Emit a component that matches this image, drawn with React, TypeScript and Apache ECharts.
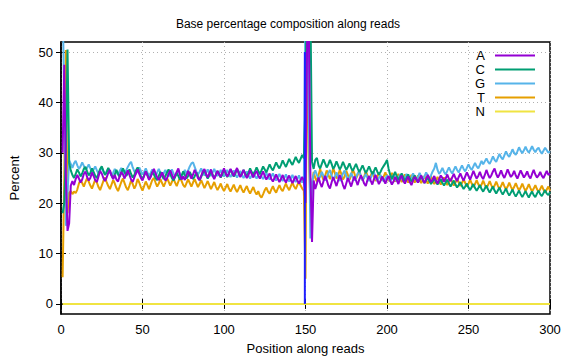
import React, { useEffect, useRef } from "react";
import * as echarts from "echarts";

const titleText = "Base percentage composition along reads";
const xAxisName = "Position along reads";
const yAxisName = "Percent";
const seriesNames = ["A", "C", "G", "T", "N"];
const seriesColors = ["#9400d3", "#009e73", "#56b4e9", "#e69f00", "#f0e442"];
const yTickValues = [0, 10, 20, 30, 40, 50];

const aValues = [
  30, 47.5, 25, 14.5, 16, 23.5, 24.4, 23.6, 24.8, 25.6, 24.9, 24.1, 24.7, 25.8, 26.3, 25.2, 24.5, 25.0, 26.1, 25.4,
  24.6, 24.2, 25.3, 26.4, 25.9, 25.0, 24.4, 25.1, 26.0, 26.6, 25.5, 24.8, 25.6, 24.7, 24.3, 25.4, 26.2, 25.7, 24.9, 25.8,
  26.5, 25.6, 24.7, 24.2, 25.1, 25.9, 26.7, 25.8, 25.0, 24.5, 25.4, 26.3, 25.5, 24.6, 25.2, 26.0, 26.8, 25.9, 25.1, 24.6,
  25.3, 26.1, 25.4, 24.5, 24.9, 25.8, 26.5, 25.7, 24.8, 25.5, 26.2, 26.9, 25.6, 24.7, 25.3, 24.6, 25.5, 26.4, 25.6, 24.9,
  25.7, 26.6, 25.9, 25.0, 24.6, 25.4, 26.3, 26.8, 25.8, 25.1, 25.9, 26.7, 25.5, 24.8, 25.6, 26.4, 25.7, 25.2, 26.1, 26.9,
  26.0, 25.3, 25.9, 26.8, 26.1, 25.4, 26.2, 27.0, 25.9, 25.2, 25.8, 26.6, 25.7, 25.0, 25.6, 26.5, 25.8, 25.1, 25.9, 26.4,
  25.5, 24.9, 25.6, 26.3, 25.4, 24.7, 25.3, 25.9, 24.8, 24.3, 25.0, 25.7, 24.9, 24.2, 24.8, 25.6, 24.7, 24.1, 24.9, 25.5,
  24.6, 24.0, 24.7, 25.4, 24.5, 23.9, 24.6, 25.2, 24.4, 20.0, 52.0, 56.0, 26.0, 12.3, 24.5, 22.8, 23.9, 25.1, 24.0, 23.2,
  24.3, 25.4, 24.6, 23.5, 22.9, 24.1, 25.2, 24.3, 23.4, 24.5, 25.6, 24.7, 23.6, 22.8, 23.9, 25.0, 24.2, 23.3, 24.4, 25.3,
  24.5, 23.6, 24.7, 25.5, 24.8, 23.9, 23.4, 24.6, 25.4, 24.5, 23.7, 24.8, 25.6, 24.7, 23.8, 24.4, 25.3, 24.6, 23.9, 24.8,
  25.4, 24.5, 23.7, 24.3, 25.2, 24.6, 23.8, 24.9, 25.5, 24.4, 23.9, 24.7, 25.3, 24.2, 23.6, 24.5, 25.2, 24.8, 24.1, 24.9,
  25.5, 24.6, 24.0, 24.8, 25.6, 24.9, 24.2, 24.7, 25.4, 24.5, 23.9, 24.8, 25.5, 25.0, 24.3, 24.9, 25.7, 24.8, 24.4, 25.1,
  25.8, 25.0, 24.4, 25.2, 25.9, 25.1, 24.5, 25.3, 26.1, 25.4, 24.7, 25.5, 26.4, 25.6, 24.9, 25.4, 26.2, 25.3, 24.8, 25.6,
  26.6, 25.7, 25.0, 25.5, 26.3, 26.9, 25.8, 25.1, 25.7, 26.5, 25.6, 25.0, 25.8, 26.7, 25.9, 25.2, 25.6, 26.4, 25.5, 24.9,
  25.7, 26.5, 25.8, 25.1, 25.6, 26.3, 25.4, 24.9, 25.8, 26.6, 25.7, 25.1, 25.5, 26.2, 25.4, 25.0, 25.7, 26.4, 25.6, 25.9,
];

const cValues = [
  18, 20, 30, 50.5, 28, 26.5, 25.6, 25.0, 25.8, 26.7, 26.1, 25.3, 25.9, 26.8, 27.2, 26.3, 25.5, 26.0, 26.9, 26.2,
  25.4, 25.0, 25.9, 26.8, 27.3, 26.4, 25.6, 26.1, 27.0, 26.3, 25.5, 24.9, 25.7, 26.6, 25.8, 25.2, 26.0, 26.9, 26.2, 25.4,
  25.9, 26.7, 25.8, 25.1, 25.6, 26.5, 27.1, 26.2, 25.4, 24.8, 25.5, 26.3, 25.6, 24.9, 25.3, 26.2, 25.7, 25.0, 24.6, 25.4,
  26.2, 25.5, 24.8, 25.3, 26.1, 26.7, 25.8, 25.0, 24.5, 25.2, 26.0, 25.4, 24.7, 25.5, 26.3, 25.6, 24.9, 25.4, 26.2, 25.5,
  24.8, 25.3, 26.1, 25.4, 24.6, 25.2, 26.0, 26.5, 25.6, 24.9, 25.5, 26.3, 25.7, 25.0, 25.6, 26.4, 25.8, 25.1, 25.7, 26.6,
  25.9, 25.2, 25.8, 26.7, 26.0, 25.3, 25.9, 26.8, 26.1, 25.4, 25.8, 26.6, 25.9, 25.3, 26.0, 26.9, 26.2, 25.6, 26.3, 27.1,
  26.4, 25.8, 26.5, 27.3, 26.7, 26.1, 26.9, 27.7, 27.0, 26.5, 27.3, 28.1, 27.4, 26.9, 27.6, 28.5, 27.8, 27.2, 28.0, 28.8,
  28.1, 27.6, 28.4, 29.2, 28.5, 28.0, 28.8, 29.6, 28.9, 40.0, 70.0, 65.0, 60.0, 28.2, 26.8, 28.6, 29.0, 27.5, 26.9, 27.8,
  28.7, 27.9, 27.1, 27.7, 28.6, 27.8, 26.8, 27.4, 28.3, 27.5, 26.7, 27.3, 28.2, 27.4, 26.6, 27.2, 27.9, 27.0, 26.4, 27.1,
  27.8, 26.9, 26.2, 26.8, 27.5, 26.7, 26.0, 26.6, 27.3, 26.5, 25.8, 26.4, 27.1, 26.3, 25.7, 26.2, 26.9, 27.4, 27.9, 28.6,
  26.8, 25.6, 24.8, 25.5, 26.2, 25.3, 24.6, 25.2, 25.9, 25.1, 24.4, 25.0, 25.7, 24.9, 24.3, 24.8, 25.5, 24.7, 24.1, 24.7,
  25.4, 24.6, 24.0, 24.5, 25.2, 24.4, 23.8, 24.3, 25.0, 24.2, 23.7, 24.2, 24.8, 24.0, 23.5, 24.1, 24.7, 23.9, 23.3, 23.9,
  24.5, 23.7, 23.1, 23.6, 24.2, 23.4, 22.8, 23.3, 23.9, 23.1, 22.6, 23.2, 23.8, 23.0, 22.5, 23.0, 23.6, 22.8, 22.3, 22.9,
  23.5, 22.7, 22.1, 22.7, 23.3, 22.5, 21.9, 22.5, 23.1, 22.3, 21.7, 22.3, 22.9, 22.1, 21.5, 22.1, 22.7, 21.9, 21.3, 21.9,
  22.5, 21.8, 21.2, 21.8, 22.4, 21.7, 21.1, 21.8, 22.3, 21.6, 21.2, 21.9, 22.5, 21.8, 21.4, 22.0, 22.6, 21.9, 21.6, 22.2,
];

const gValues = [
  60, 40, 15.5, 22, 28.5, 27.8, 27.0, 27.9, 28.4, 27.5, 26.8, 27.3, 28.1, 27.4, 26.6, 27.0, 27.7, 26.9, 26.2, 26.7,
  27.3, 26.5, 25.9, 26.4, 27.1, 26.3, 25.7, 26.3, 26.9, 26.1, 25.5, 26.0, 26.8, 26.2, 25.6, 26.4, 27.0, 26.3, 25.8, 26.5,
  27.2, 27.8, 28.2, 27.1, 26.3, 25.8, 26.5, 27.1, 26.4, 25.7, 26.2, 26.9, 26.1, 25.5, 26.0, 26.7, 26.0, 25.4, 26.1, 26.8,
  26.0, 25.4, 25.9, 26.6, 25.9, 25.3, 26.0, 26.7, 25.9, 25.3, 25.8, 26.5, 25.8, 25.2, 25.9, 26.6, 25.8, 26.5, 27.3, 27.9,
  28.1, 27.2, 26.3, 25.7, 26.2, 26.9, 26.1, 25.5, 26.0, 26.7, 25.9, 25.4, 26.1, 26.8, 26.0, 25.4, 25.9, 26.6, 25.8, 25.3,
  25.9, 26.6, 25.8, 25.2, 25.8, 26.5, 25.7, 25.1, 25.7, 26.4, 25.6, 25.0, 25.6, 26.3, 25.5, 24.9, 25.5, 26.2, 25.4, 24.9,
  25.5, 26.1, 25.3, 24.8, 25.4, 26.0, 25.2, 24.7, 25.3, 25.9, 25.1, 24.5, 25.1, 25.8, 25.0, 24.4, 25.0, 25.7, 24.9, 24.3,
  24.9, 25.6, 24.8, 24.2, 24.8, 25.5, 24.7, 24.1, 24.9, 60.0, 60.0, 40.0, 13.0, 24.2, 25.7, 26.5, 25.6, 24.7, 25.3, 26.2,
  25.4, 24.5, 25.1, 26.0, 26.6, 25.5, 24.6, 25.2, 26.1, 25.3, 24.4, 25.0, 25.9, 26.5, 25.4, 24.6, 25.2, 26.0, 25.2, 24.5,
  25.1, 25.9, 26.4, 25.3, 24.5, 25.1, 25.8, 25.0, 24.4, 25.0, 25.7, 26.2, 25.1, 24.4, 25.0, 25.6, 24.9, 24.3, 24.9, 25.5,
  24.8, 24.3, 24.9, 25.6, 24.9, 24.3, 24.9, 25.7, 25.0, 24.4, 25.0, 25.8, 25.1, 24.5, 25.1, 25.9, 25.2, 24.6, 25.2, 26.0,
  25.3, 24.7, 25.3, 26.1, 25.5, 24.9, 25.5, 26.3, 26.9, 28.0, 26.6, 25.8, 26.3, 27.0, 26.2, 25.7, 26.4, 27.1, 26.4, 25.9,
  26.6, 27.3, 26.6, 26.1, 26.8, 27.5, 26.8, 26.3, 27.0, 27.7, 27.0, 26.6, 27.3, 28.0, 27.3, 26.9, 27.6, 28.4, 27.7, 28.3,
  28.9, 28.2, 27.8, 28.5, 29.3, 28.6, 28.2, 29.0, 29.8, 29.1, 28.7, 29.5, 30.3, 29.6, 29.2, 29.9, 30.7, 30.0, 29.6, 30.3,
  31.1, 30.4, 29.9, 30.5, 31.2, 30.5, 30.0, 30.6, 31.3, 30.6, 30.1, 30.7, 31.0, 30.3, 29.8, 30.4, 31.0, 30.5, 30.0, 30.3,
];

const tValues = [
  5.3, 25, 50.4, 18, 22, 22.4, 21.8, 22.3, 22.0, 22.7, 23.9, 24.6, 24.0, 23.3, 24.2, 25.0, 24.3, 23.5, 22.9, 23.8,
  24.7, 24.1, 23.2, 22.6, 23.5, 24.4, 25.1, 24.2, 23.4, 22.8, 23.7, 24.6, 23.9, 23.0, 22.4, 23.3, 24.2, 24.9, 24.0, 23.1,
  22.6, 23.5, 24.5, 23.8, 22.9, 23.6, 24.8, 24.1, 23.2, 22.5, 23.4, 24.3, 23.6, 22.8, 23.7, 24.6, 25.0, 24.1, 23.3, 23.9,
  24.8, 24.0, 23.3, 24.1, 25.0, 24.3, 23.5, 24.2, 24.9, 24.1, 23.4, 24.3, 25.1, 24.4, 23.6, 23.2, 24.0, 24.7, 24.0, 23.3,
  24.1, 24.8, 24.0, 23.2, 23.8, 24.6, 23.8, 23.0, 23.7, 24.4, 23.6, 22.8, 23.5, 24.2, 23.3, 22.6, 23.2, 23.9, 23.0, 22.4,
  23.1, 23.8, 22.9, 22.3, 23.0, 23.7, 22.8, 22.2, 22.9, 23.6, 22.7, 22.1, 22.8, 23.4, 22.5, 21.9, 22.6, 23.2, 22.3, 21.7,
  22.4, 21.5, 21.1, 21.8, 22.6, 23.1, 22.3, 21.9, 22.7, 23.4, 22.6, 22.1, 22.9, 23.6, 22.8, 22.4, 23.2, 23.9, 23.1, 22.6,
  23.4, 24.1, 23.3, 22.8, 23.6, 24.3, 23.5, 22.9, 22.5, 5.0, 60.0, 30.0, 20.0, 23.6, 26.2, 25.0, 24.3, 25.6, 26.8, 25.5,
  24.6, 25.4, 26.5, 25.7, 24.8, 25.6, 26.9, 26.0, 24.9, 25.5, 26.6, 25.8, 24.7, 25.3, 26.4, 25.6, 24.6, 25.5, 26.7, 25.9,
  24.9, 25.6, 26.5, 25.4, 24.5, 25.3, 26.3, 25.5, 24.6, 25.4, 26.2, 25.3, 24.4, 25.2, 26.0, 25.2, 24.5, 25.3, 26.1, 25.2,
  24.4, 25.2, 26.0, 25.1, 24.3, 25.0, 25.8, 25.0, 24.2, 24.9, 25.7, 24.9, 24.1, 24.8, 25.6, 24.8, 24.1, 24.7, 25.5, 24.7,
  24.0, 24.6, 25.4, 24.6, 23.9, 24.5, 25.3, 24.5, 23.8, 24.4, 25.2, 24.4, 23.7, 24.3, 25.1, 24.3, 23.6, 24.2, 25.0, 24.2,
  23.5, 24.1, 24.9, 24.1, 23.4, 24.0, 24.8, 24.0, 23.3, 23.9, 24.7, 23.9, 23.2, 23.8, 24.6, 23.8, 23.1, 23.7, 24.5, 23.7,
  23.0, 23.6, 24.4, 23.6, 22.9, 23.5, 24.3, 23.5, 22.8, 23.4, 24.2, 23.4, 22.7, 23.3, 24.1, 23.3, 22.6, 23.2, 24.0, 23.2,
  22.5, 23.1, 23.9, 23.1, 22.4, 23.0, 23.8, 23.0, 22.3, 22.9, 23.6, 22.8, 22.2, 22.8, 23.5, 22.7, 22.1, 22.7, 23.3, 22.5,
];

const nValues: number[] = new Array(300).fill(0);

// vertical marker near position 150
const markerX = 149.6;
const markerYs = [0, 50];

const FONT = "'Liberation Sans', Arial, sans-serif";

export default function App() {
  const ref = useRef<HTMLDivElement>(null);
  useEffect(() => {
    if (!ref.current) return;
    const chart = echarts.init(ref.current, null, { renderer: "svg" });
    const allValues = [aValues, cValues, gValues, tValues, nValues];
    const series: any[] = allValues.map((vals, i) => ({
      name: seriesNames[i],
      type: "line",
      xAxisIndex: 0,
      yAxisIndex: 0,
      showSymbol: false,
      symbol: "none",
      data: vals.map((v, j) => [j + 1, v]),
      lineStyle: { color: seriesColors[i], width: 2 },
      itemStyle: { color: seriesColors[i] },
      clip: true,
      z: 3 + (5 - i),
    }));
    series.push({
      name: "marker",
      type: "line",
      showSymbol: false,
      symbol: "none",
      data: markerYs.map((y) => [markerX, y]),
      lineStyle: { color: "#1f1fff", width: 2 },
      clip: true,
      z: 10,
    });

    chart.setOption({
      animation: false,
      backgroundColor: "#ffffff",
      textStyle: { fontFamily: FONT },
      title: {
        text: titleText,
        left: "center",
        top: 13,
        textStyle: { fontSize: 12, fontWeight: "normal", color: "#000", fontFamily: FONT },
      },
      legend: {
        data: seriesNames.map((n, i) => ({ name: n, itemStyle: { color: seriesColors[i] } })),
        orient: "vertical",
        right: 36,
        top: 44,
        align: "right",
        icon: "rect",
        itemWidth: 40,
        itemHeight: 2,
        itemGap: 1,
        textStyle: { fontSize: 13, color: "#000", fontFamily: FONT, lineHeight: 13, padding: [0, 5, 0, 0] },
      },
      grid: {
        left: 60,
        right: 26,
        top: 42,
        bottom: 45,
        show: true,
        borderColor: "#000",
        borderWidth: 1.5,
        backgroundColor: "transparent",
      },
      xAxis: [
        {
          type: "value",
          min: 0,
          max: 300,
          interval: 50,
          name: xAxisName,
          nameLocation: "middle",
          nameGap: 28,
          nameTextStyle: { fontSize: 13, color: "#000", fontFamily: FONT },
          axisLine: { show: true, lineStyle: { color: "#000", width: 1.5 } },
          axisTick: { show: true, inside: true, length: 5, lineStyle: { color: "#000" } },
          axisLabel: { fontSize: 13, color: "#000", margin: 9, fontFamily: FONT },
          splitLine: { show: true, lineStyle: { color: "#b0b0b0", type: [1, 3], width: 1 } },
        },
        {
          type: "value",
          position: "top",
          min: 0,
          max: 300,
          interval: 50,
          axisLine: { show: false },
          axisTick: { show: true, inside: true, length: 5, lineStyle: { color: "#000" } },
          axisLabel: { show: false },
          splitLine: { show: false },
        },
      ],
      yAxis: [
        {
          type: "value",
          min: -2,
          max: 52,
          splitNumber: 5,
          name: yAxisName,
          nameLocation: "middle",
          nameGap: 40,
          nameRotate: 90,
          nameTextStyle: { fontSize: 13, color: "#000", fontFamily: FONT },
          axisLine: { show: true, lineStyle: { color: "#000", width: 1.5 } },
          axisTick: { show: true, inside: true, length: 5, lineStyle: { color: "#000" }, customValues: yTickValues },
          axisLabel: { fontSize: 13, color: "#000", margin: 8, fontFamily: FONT, customValues: yTickValues },
          splitLine: { show: true, lineStyle: { color: "#b0b0b0", type: [1, 3], width: 1 } },
        },
        {
          type: "value",
          position: "right",
          min: -2,
          max: 52,
          splitNumber: 5,
          axisLine: { show: false },
          axisTick: { show: true, inside: true, length: 5, lineStyle: { color: "#000" }, customValues: yTickValues },
          axisLabel: { show: false },
          splitLine: { show: false },
        },
      ],
      series,
    });
    return () => chart.dispose();
  }, []);
  return <div ref={ref} style={{ width: 576, height: 360, position: "absolute", left: 0, top: 0 }} />;
}
